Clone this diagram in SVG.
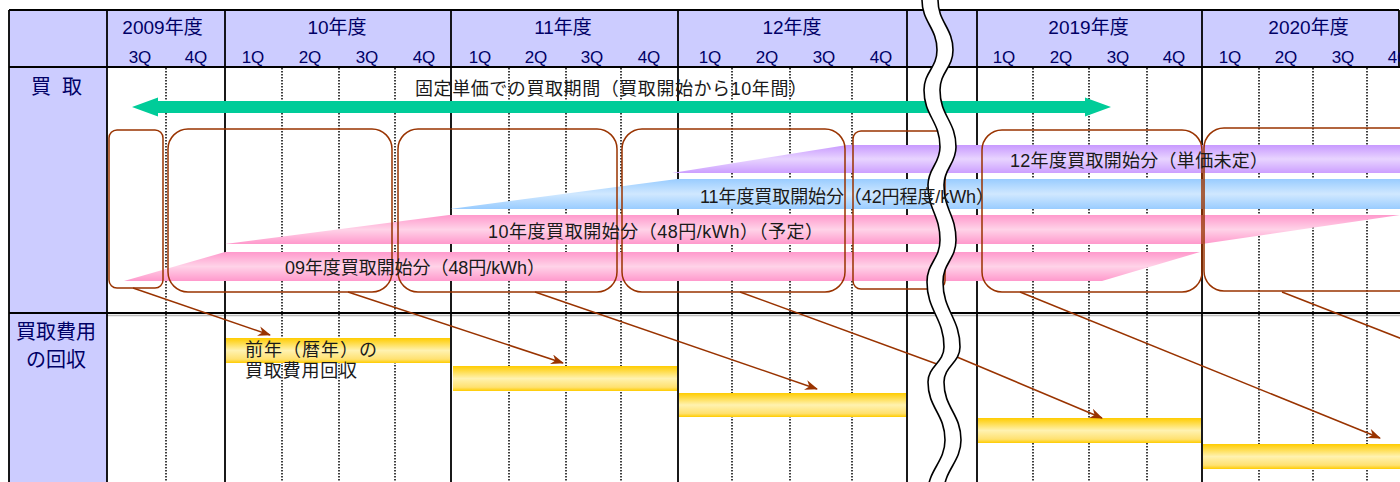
<svg xmlns="http://www.w3.org/2000/svg" width="1400" height="482" viewBox="0 0 1400 482">
<style>
text{font-family:"Liberation Sans","Noto Sans CJK JP",sans-serif}
.hdr{font-size:19px;fill:#000066;text-anchor:middle}
.q{font-size:17px;fill:#000066;text-anchor:middle}
.lbl{font-size:20px;fill:#000066}
.bt{font-size:18px;fill:#1a1a1a}
.solid{stroke:#000;stroke-width:1.8}
.dot{stroke:#000;stroke-width:1.5;stroke-dasharray:1.5 1.5}
.box{fill:none;stroke:#993300;stroke-width:1.5}
.conn{fill:none;stroke:#993300;stroke-width:1.5}
.wave{fill:none;stroke:#000;stroke-width:1.6}
</style>
<defs>
<linearGradient id="gPink" x1="0" y1="0" x2="0" y2="1"><stop offset="0" stop-color="#FF99CC"/><stop offset="0.5" stop-color="#FFD3E8"/><stop offset="1" stop-color="#FF99CC"/></linearGradient>
<linearGradient id="gBlue" x1="0" y1="0" x2="0" y2="1"><stop offset="0" stop-color="#99CCFF"/><stop offset="0.5" stop-color="#D0E8FF"/><stop offset="1" stop-color="#99CCFF"/></linearGradient>
<linearGradient id="gPurp" x1="0" y1="0" x2="0" y2="1"><stop offset="0" stop-color="#C899FF"/><stop offset="0.5" stop-color="#E8D4FF"/><stop offset="1" stop-color="#CC9FFF"/></linearGradient>
<linearGradient id="gYel" x1="0" y1="0" x2="0" y2="1"><stop offset="0" stop-color="#FFCC00"/><stop offset="0.5" stop-color="#FFF2B0"/><stop offset="0.85" stop-color="#FFE170"/><stop offset="1" stop-color="#FFCC00"/></linearGradient>
<marker id="ah" viewBox="0 0 13 10" markerWidth="13" markerHeight="10" refX="12" refY="5" orient="auto" markerUnits="userSpaceOnUse"><path d="M0,0 L13,5 L0,10 L4,5 Z" fill="#993300"/></marker>
</defs>

<g id="table-bg">
<rect x="9" y="10" width="1390" height="57" fill="#CCCCFF"/>
<rect x="9" y="67" width="98" height="415" fill="#CCCCFF"/>
</g>

<g id="grid">
<line class="solid" x1="9" y1="10" x2="1399" y2="10"/>
<line class="solid" x1="9" y1="67" x2="1400" y2="67"/>
<line x1="107" y1="315.5" x2="1400" y2="315.5" stroke="#BBBBBB" stroke-width="1.5"/>
<line class="solid" x1="9" y1="313" x2="1400" y2="313"/>
<line class="solid" x1="9" y1="10" x2="9" y2="482"/>
<line class="solid" x1="107" y1="10" x2="107" y2="482"/>
<line class="solid" x1="225" y1="10" x2="225" y2="482"/>
<line class="solid" x1="451" y1="10" x2="451" y2="482"/>
<line class="solid" x1="678" y1="10" x2="678" y2="482"/>
<line class="solid" x1="907" y1="10" x2="907" y2="482"/>
<line class="solid" x1="977" y1="10" x2="977" y2="482"/>
<line class="solid" x1="1202" y1="10" x2="1202" y2="482"/>
<line class="solid" x1="1399" y1="10" x2="1399" y2="67"/>
<line class="dot" x1="166" y1="68" x2="166" y2="482"/>
<line class="dot" x1="282" y1="68" x2="282" y2="482"/>
<line class="dot" x1="339" y1="68" x2="339" y2="482"/>
<line class="dot" x1="395" y1="68" x2="395" y2="482"/>
<line class="dot" x1="509" y1="68" x2="509" y2="482"/>
<line class="dot" x1="566" y1="68" x2="566" y2="482"/>
<line class="dot" x1="621" y1="68" x2="621" y2="482"/>
<line class="dot" x1="732" y1="68" x2="732" y2="482"/>
<line class="dot" x1="790" y1="68" x2="790" y2="482"/>
<line class="dot" x1="852" y1="68" x2="852" y2="482"/>
<line class="dot" x1="1033" y1="68" x2="1033" y2="482"/>
<line class="dot" x1="1089" y1="68" x2="1089" y2="482"/>
<line class="dot" x1="1147" y1="68" x2="1147" y2="482"/>
<line class="dot" x1="1259" y1="68" x2="1259" y2="482"/>
<line class="dot" x1="1313" y1="68" x2="1313" y2="482"/>
<line class="dot" x1="1367" y1="68" x2="1367" y2="482"/>
</g>

<g id="header">
<text class="hdr" x="162.5" y="33.5">2009年度</text>
<text class="hdr" x="337" y="33.5">10年度</text>
<text class="hdr" x="563" y="33.5">11年度</text>
<text class="hdr" x="792" y="33.5">12年度</text>
<text class="hdr" x="1088.5" y="33.5">2019年度</text>
<text class="hdr" x="1308.5" y="33.5">2020年度</text>
<text class="q" x="140" y="62.5">3Q</text>
<text class="q" x="196" y="62.5">4Q</text>
<text class="q" x="253" y="62.5">1Q</text>
<text class="q" x="310" y="62.5">2Q</text>
<text class="q" x="367" y="62.5">3Q</text>
<text class="q" x="424" y="62.5">4Q</text>
<text class="q" x="480" y="62.5">1Q</text>
<text class="q" x="536" y="62.5">2Q</text>
<text class="q" x="592" y="62.5">3Q</text>
<text class="q" x="649" y="62.5">4Q</text>
<text class="q" x="710" y="62.5">1Q</text>
<text class="q" x="767" y="62.5">2Q</text>
<text class="q" x="824" y="62.5">3Q</text>
<text class="q" x="881" y="62.5">4Q</text>
<text class="q" x="1004" y="62.5">1Q</text>
<text class="q" x="1061" y="62.5">2Q</text>
<text class="q" x="1118" y="62.5">3Q</text>
<text class="q" x="1174" y="62.5">4Q</text>
<text class="q" x="1230" y="62.5">1Q</text>
<text class="q" x="1286" y="62.5">2Q</text>
<text class="q" x="1343" y="62.5">3Q</text>
<text class="q" x="1399" y="62.5">4Q</text>
</g>

<g id="row-labels">
<text class="lbl" y="93.5"><tspan x="31">買</tspan><tspan x="62">取</tspan></text>
<text class="lbl" x="16" y="338.5">買取費用</text>
<text class="lbl" x="26" y="366.5">の回収</text>
</g>

<g id="period-arrow">
<polygon points="132,107 158,97.5 158,101 1085,101 1085,97.5 1111,107 1085,116.5 1085,113 158,113 158,116.5" fill="#00CC99"/>
</g>

<g id="band12"><polygon points="672,173 847,145 1400,145 1400,173" fill="url(#gPurp)"/></g>
<g id="band11"><polygon points="450,209 677,179 1400,179 1400,209" fill="url(#gBlue)"/></g>
<g id="band10"><polygon points="225,244 449,215 1400,215 1202,244" fill="url(#gPink)"/></g>
<g id="band09"><polygon points="124,281 225,252 1200,252 1102,281" fill="url(#gPink)"/></g>

<g id="bar1"><rect x="226" y="338" width="224" height="25" fill="url(#gYel)"/></g>
<g id="bar2"><rect x="453" y="366" width="224" height="25" fill="url(#gYel)"/></g>
<g id="bar3"><rect x="679" y="393" width="227" height="24" fill="url(#gYel)"/></g>
<g id="bar4"><rect x="978" y="418" width="223" height="25" fill="url(#gYel)"/></g>
<g id="bar5"><rect x="1203" y="444" width="200" height="25" fill="url(#gYel)"/></g>

<g id="box1"><rect class="box" x="109" y="130" width="54" height="158" rx="8"/></g>
<g id="box2"><rect class="box" x="168" y="129" width="224" height="163" rx="20"/></g>
<g id="box3"><rect class="box" x="398" y="129" width="219" height="163" rx="20"/></g>
<g id="box4"><rect class="box" x="622" y="129" width="223" height="163" rx="20"/></g>
<g id="box5"><rect class="box" x="853" y="131" width="92" height="158" rx="8"/></g>
<g id="box6"><rect class="box" x="982" y="130" width="220" height="162" rx="20"/></g>
<g id="box7"><rect class="box" x="1204" y="128" width="222" height="163" rx="20"/></g>

<g id="connectors">
<line class="conn" x1="133" y1="288" x2="270" y2="335" marker-end="url(#ah)"/>
<line class="conn" x1="348" y1="292" x2="563" y2="363" marker-end="url(#ah)"/>
<line class="conn" x1="535" y1="292" x2="817" y2="389" marker-end="url(#ah)"/>
<line class="conn" x1="740" y1="292" x2="945" y2="367"/>
<line class="conn" x1="945" y1="352" x2="1102" y2="418" marker-end="url(#ah)"/>
<line class="conn" x1="1020" y1="292" x2="1380" y2="438" marker-end="url(#ah)"/>
<line class="conn" x1="1282" y1="292" x2="1420" y2="346"/>
</g>

<g id="break">
<path d="M922,-2 L922,0 C922,22 937,28 937,50 C937,68 924,72 924,90 C924,116 940,121 940,147 C940,164 928,168 928,185 C928,210 940,215 940,240 C940,259 927,263 927,282 C927,311 944,318 944,347 C944,363 928,366 928,382 C928,408 945,414 945,440 C945,462 928,470 928,492 L944,492 C944,470 961,462 961,440 C961,414 944,408 944,382 C944,366 960,363 960,347 C960,318 943,311 943,282 C943,263 956,259 956,240 C956,215 944,210 944,185 C944,168 956,164 956,147 C956,121 940,116 940,90 C940,72 953,68 953,50 C953,28 938,22 938,0 L938,-2 Z" fill="#FFFFFF"/>
<path class="wave" d="M922,0 C922,22 937,28 937,50 C937,68 924,72 924,90 C924,116 940,121 940,147 C940,164 928,168 928,185 C928,210 940,215 940,240 C940,259 927,263 927,282 C927,311 944,318 944,347 C944,363 928,366 928,382 C928,408 945,414 945,440 C945,462 928,470 928,492"/>
<path class="wave" d="M938,0 C938,22 953,28 953,50 C953,68 940,72 940,90 C940,116 956,121 956,147 C956,164 944,168 944,185 C944,210 956,215 956,240 C956,259 943,263 943,282 C943,311 960,318 960,347 C960,363 944,366 944,382 C944,408 961,414 961,440 C961,462 944,470 944,492"/>
</g>

<g id="labels">
<text class="bt" x="415" y="95" textLength="392">固定単価での買取期間（買取開始から10年間）</text>
<text class="bt" x="1010" y="166.5" textLength="258">12年度買取開始分（単価未定）</text>
<text class="bt" x="700" y="202.5" textLength="294">11年度買取開始分（42円程度/kWh）</text>
<text class="bt" x="488" y="237.5" textLength="335">10年度買取開始分（48円/kWh）（予定）</text>
<text class="bt" x="285" y="273.5" textLength="260">09年度買取開始分（48円/kWh）</text>
<text class="bt" x="245" y="356" font-size="19" textLength="132">前年（暦年）の</text>
<text class="bt" x="245" y="376.5" font-size="19" textLength="112">買取費用回収</text>
</g>
</svg>
